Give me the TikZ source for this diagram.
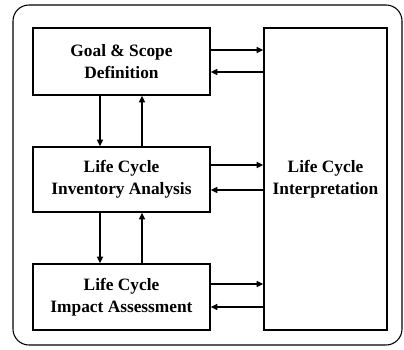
\documentclass[tikz,border=0pt]{standalone}
\usepackage{fontspec}
\setmainfont{Liberation Serif}
\usetikzlibrary{arrows.meta}

\begin{document}
\begin{tikzpicture}[x=0.75pt,y=-0.75pt,
    stagebox/.style={draw,line width=1pt,align=center,inner sep=0pt,
      font=\fontsize{13}{16.5}\selectfont\bfseries},
    flow/.style={-{Triangle[length=5pt,width=4.5pt]},line width=1pt}]

    \useasboundingbox (0,0) rectangle (404,350);
    \draw[line width=0.8pt,rounded corners=12] (13,5) rectangle (402,345);

    \node[stagebox,minimum width=132.75pt,minimum height=50.25pt] (goal) at (121.5,61.5) {Goal \& Scope\\Definition};
    \node[stagebox,minimum width=132.75pt,minimum height=48.75pt] (lci) at (121.5,179.5) {Life Cycle\\Inventory Analysis};
    \node[stagebox,minimum width=132.75pt,minimum height=49.5pt] (lcia) at (121.5,297) {Life Cycle\\Impact Assessment};
    \node[stagebox,minimum width=92.25pt,minimum height=226.5pt] (interp) at (325.5,179) {Life Cycle\\Interpretation};

    % vertical links
    \draw[flow] (goal.south -| 100,0) -- (lci.north -| 100,0);
    \draw[flow] (lci.north -| 142,0) -- (goal.south -| 142,0);
    \draw[flow] (lci.south -| 100,0) -- (lcia.north -| 100,0);
    \draw[flow] (lcia.north -| 142,0) -- (lci.south -| 142,0);

    % links to interpretation
    \draw[flow] (goal.east |- 0,50) -- (interp.west |- 0,50);
    \draw[flow] (interp.west |- 0,72) -- (goal.east |- 0,72);
    \draw[flow] (lci.east |- 0,165) -- (interp.west |- 0,165);
    \draw[flow] (interp.west |- 0,190) -- (lci.east |- 0,190);
    \draw[flow] (lcia.east |- 0,284) -- (interp.west |- 0,284);
    \draw[flow] (interp.west |- 0,307) -- (lcia.east |- 0,307);

\end{tikzpicture}
\end{document}
